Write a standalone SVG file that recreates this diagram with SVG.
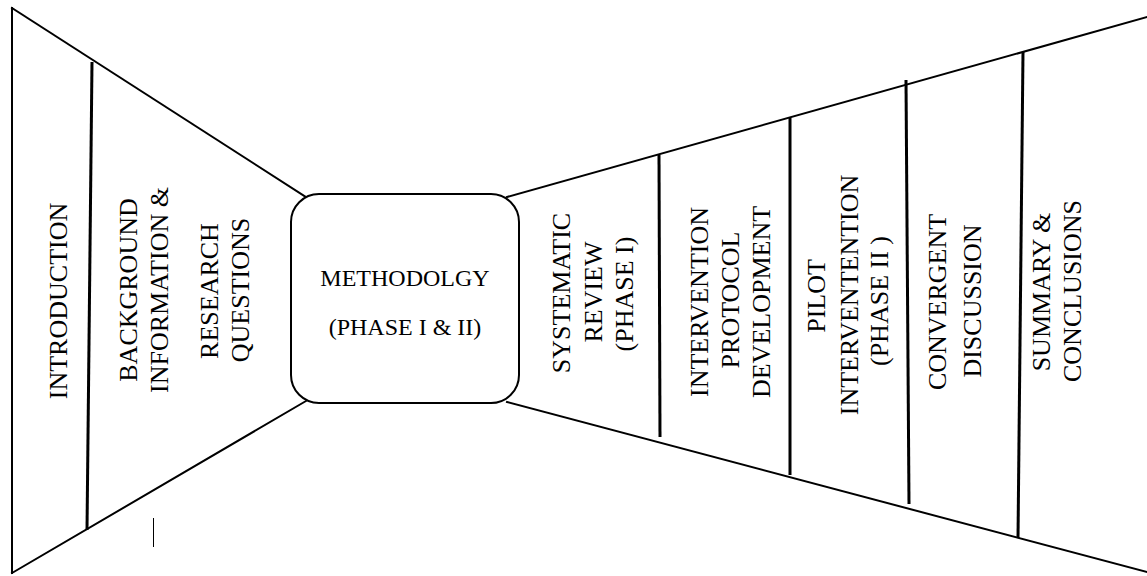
<svg xmlns="http://www.w3.org/2000/svg" width="1147" height="576" viewBox="0 0 1147 576">
<style>
.o{stroke:#000;stroke-width:2;fill:none;stroke-linecap:square}
.d{stroke:#000;stroke-width:3;fill:none}
.t{font-family:"Liberation Serif","Times New Roman",serif;font-size:26px;fill:#000;text-anchor:middle}
.m{font-family:"Liberation Serif","Times New Roman",serif;font-size:24px;fill:#000;text-anchor:middle}
</style>
<rect width="1147" height="576" fill="#fff"/>
<g id="connectors">
<line class="o" x1="12" y1="8" x2="12" y2="573"/>
<line class="o" x1="12" y1="8" x2="306" y2="197"/>
<line class="o" x1="12" y1="573" x2="306" y2="401"/>
<line class="o" x1="507" y1="197" x2="1147" y2="17"/>
<line class="o" x1="507" y1="402" x2="1147" y2="572"/>
<line class="d" x1="92" y1="62" x2="87" y2="530"/>
<line class="d" x1="659" y1="155" x2="660" y2="437"/>
<line class="d" x1="790" y1="118" x2="790" y2="475"/>
<line class="d" x1="906" y1="80" x2="909" y2="504"/>
<line class="d" x1="1023" y1="52" x2="1018" y2="538"/>
<line stroke="#000" stroke-width="1" x1="153.5" y1="518" x2="153.5" y2="547"/>
</g>
<g id="introduction">
<text class="t" transform="translate(67,301) rotate(-90)">INTRODUCTION</text>
</g>
<g id="background">
<text class="t" transform="translate(137,290) rotate(-90)">BACKGROUND</text>
<text class="t" transform="translate(168,290) rotate(-90)">INFORMATION &amp;</text>
<text class="t" transform="translate(218,291) rotate(-90)">RESEARCH</text>
<text class="t" transform="translate(249,290) rotate(-90)">QUESTIONS</text>
</g>
<g id="methodology">
<rect x="291" y="194" width="228" height="209" rx="28" ry="28" fill="#fff" stroke="#000" stroke-width="2"/>
<text class="m" x="405" y="286">METHODOLGY</text>
<text class="m" x="405" y="335">(PHASE I &amp; II)</text>
</g>
<g id="systematic-review">
<text class="t" transform="translate(570,293) rotate(-90)">SYSTEMATIC</text>
<text class="t" transform="translate(602,292) rotate(-90)">REVIEW</text>
<text class="t" transform="translate(633,294) rotate(-90)">(PHASE I)</text>
</g>
<g id="protocol">
<text class="t" transform="translate(708,302) rotate(-90)">INTERVENTION</text>
<text class="t" transform="translate(739,300) rotate(-90)">PROTOCOL</text>
<text class="t" transform="translate(770,302) rotate(-90)">DEVELOPMENT</text>
</g>
<g id="pilot">
<text class="t" transform="translate(825,296) rotate(-90)">PILOT</text>
<text class="t" transform="translate(858,295) rotate(-90)">INTERVENTENTION</text>
<text class="t" transform="translate(888,301) rotate(-90)">(PHASE II )</text>
</g>
<g id="discussion">
<text class="t" transform="translate(946,302) rotate(-90)">CONVERGENT</text>
<text class="t" transform="translate(981,301) rotate(-90)">DISCUSSION</text>
</g>
<g id="summary">
<text class="t" transform="translate(1050,292) rotate(-90)">SUMMARY &amp;</text>
<text class="t" transform="translate(1081,291) rotate(-90)">CONCLUSIONS</text>
</g>
</svg>
